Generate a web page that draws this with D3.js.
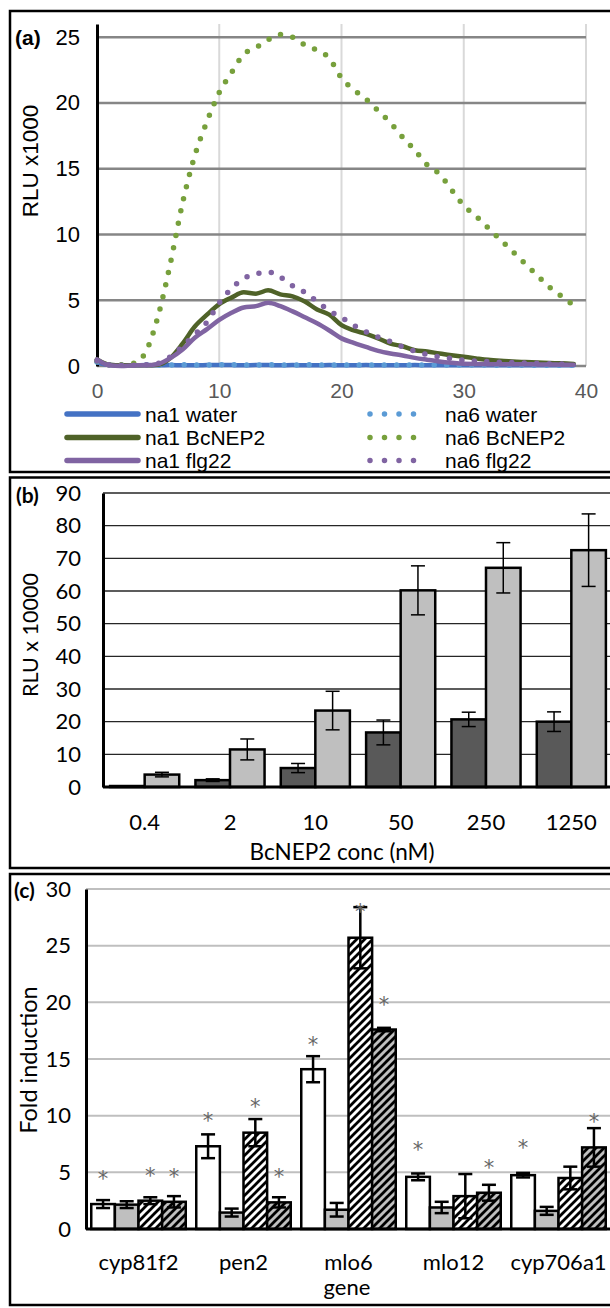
<!DOCTYPE html>
<html>
<head>
<meta charset="utf-8">
<script src="https://cdn.jsdelivr.net/npm/d3@7/dist/d3.min.js"></script>
<style>
    body { margin: 0; background: #fff; }
    svg { display: block; }
</style>
</head>
<body>
<svg id="figure" width="610" height="1308"></svg>
<script>
// ---- panel (a): luminescence time course, RLU x1000 per minute ----
const minutes = [0, 1, 2, 3, 4, 5, 6, 7, 8, 9, 10, 11, 12, 13, 14, 15, 16, 17, 18, 19,
    20, 21, 22, 23, 24, 25, 26, 27, 28, 29, 30, 31, 32, 33, 34, 35, 36, 37, 38, 39];

const na1Water = [0.3, 0.08, 0.06, 0.06, 0.07, 0.06, 0.07, 0.06, 0.06, 0.07, 0.08, 0.07, 0.06, 0.07, 0.07, 0.06,
    0.07, 0.06, 0.06, 0.07, 0.06, 0.06, 0.07, 0.06, 0.06, 0.06, 0.07, 0.06, 0.06, 0.06, 0.06, 0.06,
    0.06, 0.05, 0.06, 0.05, 0.05, 0.06, 0.05, 0.05];
const na6Water = [0.3, 0.1, 0.08, 0.08, 0.09, 0.08, 0.08, 0.09, 0.08, 0.08, 0.1, 0.09, 0.08, 0.08, 0.09, 0.08,
    0.08, 0.09, 0.08, 0.08, 0.08, 0.08, 0.09, 0.08, 0.08, 0.08, 0.08, 0.07, 0.07, 0.07, 0.07, 0.07,
    0.07, 0.06, 0.06, 0.06, 0.06, 0.06, 0.06, 0.06];
const na1BcNEP2 = [0.5, 0.1, 0.05, 0.05, 0.05, 0.1, 0.6, 1.7, 3.0, 3.9, 4.7, 5.2, 5.6, 5.5, 5.75, 5.45,
    5.3, 4.9, 4.3, 3.9, 3.1, 2.7, 2.45, 2.1, 1.7, 1.5, 1.2, 1.1, 0.95, 0.82, 0.7, 0.58,
    0.47, 0.4, 0.35, 0.3, 0.27, 0.23, 0.2, 0.15];
const na6BcNEP2 = [0.4, 0.1, 0.1, 0.2, 1.1, 3.8, 7.8, 12.4, 16.0, 18.6, 20.8, 22.3, 23.7, 24.2, 24.8, 25.2,
    25.0, 24.4, 24.0, 23.4, 21.9, 21.0, 20.3, 19.4, 18.5, 17.4, 16.4, 15.3, 14.6, 13.4, 12.2, 11.4,
    10.5, 9.6, 8.7, 7.8, 6.9, 6.0, 5.3, 4.6];
const na1Flg22 = [0.5, 0.05, 0.0, 0.05, 0.05, 0.15, 0.6, 1.25, 2.15, 2.8, 3.5, 4.05, 4.45, 4.55, 4.8, 4.55,
    4.15, 3.7, 3.25, 2.7, 2.1, 1.75, 1.45, 1.15, 0.95, 0.8, 0.62, 0.48, 0.35, 0.25, 0.17, 0.15,
    0.14, 0.14, 0.13, 0.13, 0.12, 0.12, 0.1, 0.1];
const na6Flg22 = [0.4, 0.1, 0.05, 0.05, 0.1, 0.2, 0.7, 1.5, 2.4, 3.35, 4.8, 5.9, 6.65, 7.0, 7.15, 6.75,
    6.1, 5.6, 4.9, 4.2, 3.7, 3.1, 2.6, 2.2, 1.85, 1.45, 1.13, 0.88, 0.7, 0.56, 0.45, 0.38,
    0.33, 0.29, 0.26, 0.23, 0.2, 0.18, 0.16, 0.15];

const timeTicks = [0, 10, 20, 30, 40];
const rluTicks = [0, 5, 10, 15, 20, 25];

// ---- panel (b): dose response, RLU x 10000 ----
const concLabels = ["0.4", "2", "10", "50", "250", "1250"];
const darkValues = [0.3, 2.1, 5.8, 16.7, 20.7, 20.0];
const darkErrors = [0, 0.4, 1.4, 3.8, 2.2, 3.0];
const lightValues = [3.8, 11.5, 23.4, 60.2, 67.1, 72.5];
const lightErrors = [0.7, 3.2, 5.9, 7.5, 7.7, 11.1];
const doseTicks = [0, 10, 20, 30, 40, 50, 60, 70, 80, 90];

// ---- panel (c): fold induction per gene ----
const genes = ["cyp81f2", "pen2", "mlo6", "mlo12", "cyp706a1"];
const treatments = ["white", "grey", "hatched", "greyHatched"];
const foldValues = [
    [2.2, 2.15, 2.5, 2.4],
    [7.3, 1.45, 8.5, 2.35],
    [14.1, 1.7, 25.7, 17.6],
    [4.6, 1.9, 2.9, 3.2],
    [4.75, 1.6, 4.5, 7.2]
];
const foldErrors = [
    [0.35, 0.3, 0.3, 0.5],
    [1.05, 0.35, 1.2, 0.45],
    [1.15, 0.6, 2.7, 0.15],
    [0.3, 0.5, 1.95, 0.7],
    [0.2, 0.35, 1.0, 1.7]
];
const starHeights = [
    [4.85, null, 5.15, 5.0],
    [10.0, null, 11.2, 5.0],
    [16.7, null, 28.4, 20.2],
    [7.45, null, null, 5.8],
    [7.6, null, null, 9.9]
];
const foldTicks = [0, 5, 10, 15, 20, 25, 30];

(function () {
    const svg = d3.select("#figure");
    const arial = "'Liberation Sans', Arial, sans-serif";
    const calibri = "Lato, 'Open Sans', sans-serif";

    // panel frames (right edges run off the page)
    [[11, 472], [477.5, 868], [874, 1305]].forEach(([top, bottom]) => {
        svg.append("rect")
            .attr("x", 10).attr("y", top)
            .attr("width", 640).attr("height", bottom - top)
            .attr("fill", "none")
            .attr("stroke", "#000")
            .attr("stroke-width", 2.5);
    });

    const defs = svg.append("defs");
    [["hatch-white", "#fff"], ["hatch-grey", "#bfbfbf"]].forEach(([id, bg]) => {
        const p = defs.append("pattern")
            .attr("id", id)
            .attr("patternUnits", "userSpaceOnUse")
            .attr("width", 8).attr("height", 8);
        p.append("rect").attr("width", 8).attr("height", 8).attr("fill", bg);
        p.append("path")
            .attr("d", "M-2,10 L10,-2 M-6,6 L6,-6 M2,14 L14,2")
            .attr("stroke", "#000")
            .attr("stroke-width", 2.8);
    });

    function styleText(sel, font, size, color) {
        sel.attr("font-family", font).attr("font-size", size).attr("fill", color || "#000");
    }

    // ================= (a) =================
    function drawPanelA() {
        const x = d3.scaleLinear().domain([0, 40]).range([97, 586]);
        const y = d3.scaleLinear().domain([0, 26]).range([366, 24]);
        const g = svg.append("g");

        g.selectAll("line.vgrid").data(timeTicks.slice(1)).join("line")
            .attr("x1", d => x(d)).attr("x2", d => x(d))
            .attr("y1", y(26)).attr("y2", y(0))
            .attr("stroke", "#d9d9d9").attr("stroke-width", 2);
        g.selectAll("line.hgrid").data(rluTicks).join("line")
            .attr("x1", x(0)).attr("x2", x(40))
            .attr("y1", d => y(d)).attr("y2", d => y(d))
            .attr("stroke", "#868686").attr("stroke-width", 2.5);

        const yAxis = g.append("g")
            .attr("transform", `translate(${x(0)},0)`)
            .call(d3.axisLeft(y).tickValues(rluTicks).tickSize(0).tickSizeOuter(0).tickPadding(17));
        yAxis.select(".domain").attr("stroke", "#000").attr("stroke-width", 3);
        yAxis.selectAll("text").call(styleText, arial, 22);

        const xAxis = g.append("g")
            .attr("transform", `translate(0,${y(0)})`)
            .call(d3.axisBottom(x).tickValues(timeTicks).tickSize(0).tickPadding(17));
        xAxis.select(".domain").remove();
        xAxis.selectAll("text").call(styleText, arial, 21, "#595959");

        const series = [
            { name: "na1 water", values: na1Water, color: "#4472c4", dotted: false },
            { name: "na6 water", values: na6Water, color: "#5b9bd5", dotted: true },
            { name: "na1 BcNEP2", values: na1BcNEP2, color: "#4f6228", dotted: false },
            { name: "na6 BcNEP2", values: na6BcNEP2, color: "#77a03c", dotted: true },
            { name: "na1 flg22", values: na1Flg22, color: "#8064a2", dotted: false },
            { name: "na6 flg22", values: na6Flg22, color: "#8064a2", dotted: true }
        ];

        const line = d3.line()
            .x((d, i) => x(minutes[i]))
            .y(d => y(d))
            .curve(d3.curveMonotoneX);

        series.forEach(s => {
            g.append("path")
                .attr("d", line(s.values))
                .attr("fill", "none")
                .attr("stroke", s.color)
                .attr("stroke-width", s.dotted ? 5.5 : 4.5)
                .attr("stroke-linecap", "round")
                .attr("stroke-linejoin", "round")
                .attr("stroke-dasharray", s.dotted ? "0 12.5" : null);
        });

        // legend: solid series on the left, dotted on the right
        const rows = [414, 437.5, 460.5];
        series.forEach((s, i) => {
            const col = i % 2;
            const ry = rows[Math.floor(i / 2)];
            const x0 = col ? 370 : 67;
            const x1 = col ? 428 : 138;
            g.append("line")
                .attr("x1", x0).attr("x2", x1)
                .attr("y1", ry).attr("y2", ry)
                .attr("stroke", s.color)
                .attr("stroke-width", 5.5)
                .attr("stroke-linecap", "round")
                .attr("stroke-dasharray", s.dotted ? "0 14.5" : null);
            g.append("text")
                .attr("x", col ? 445 : 145).attr("y", ry)
                .attr("dy", "0.36em")
                .call(styleText, arial, 21)
                .text(s.name);
        });

        g.append("text")
            .attr("transform", "translate(38,161) rotate(-90)")
            .attr("text-anchor", "middle")
            .call(styleText, arial, 22.5)
            .text("RLU x1000");

        g.append("text")
            .attr("x", 15).attr("y", 45)
            .attr("font-weight", "bold")
            .call(styleText, arial, 21)
            .text("(a)");
    }

    // ================= (b) =================
    function drawPanelB() {
        const x = d3.scaleBand().domain(concLabels).range([102, 614])
            .paddingInner(0.19).paddingOuter(0.095);
        const sub = d3.scaleBand().domain(["dark", "light"]).range([0, x.bandwidth()]);
        const y = d3.scaleLinear().domain([0, 90]).range([787, 493]);
        const g = svg.append("g");

        g.selectAll("line.grid").data(doseTicks.slice(1)).join("line")
            .attr("x1", 103).attr("x2", 610)
            .attr("y1", d => y(d)).attr("y2", d => y(d))
            .attr("stroke", "#262626").attr("stroke-width", 1.3);

        const bars = [
            { key: "dark", values: darkValues, errors: darkErrors, fill: "#595959" },
            { key: "light", values: lightValues, errors: lightErrors, fill: "#bfbfbf" }
        ];
        bars.forEach(b => {
            const bx = (d, i) => x(concLabels[i]) + sub(b.key);
            g.append("g").selectAll("rect").data(b.values).join("rect")
                .attr("x", bx)
                .attr("y", d => y(d))
                .attr("width", sub.bandwidth())
                .attr("height", d => y(0) - y(d))
                .attr("fill", b.fill)
                .attr("stroke", "#000")
                .attr("stroke-width", 2.5);
            const eg = g.append("g").attr("stroke", "#000").attr("stroke-width", 1.5);
            b.values.forEach((v, i) => {
                const e = b.errors[i];
                if (!e) return;
                const cx = bx(v, i) + sub.bandwidth() / 2;
                eg.append("line").attr("x1", cx).attr("x2", cx).attr("y1", y(v - e)).attr("y2", y(v + e));
                [v - e, v + e].forEach(c => {
                    eg.append("line").attr("x1", cx - 7).attr("x2", cx + 7).attr("y1", y(c)).attr("y2", y(c));
                });
            });
        });

        const yAxis = g.append("g")
            .attr("transform", "translate(103,0)")
            .call(d3.axisLeft(y).tickValues(doseTicks).tickSize(0).tickSizeOuter(0).tickPadding(22));
        yAxis.select(".domain").attr("stroke", "#000").attr("stroke-width", 3);
        yAxis.selectAll("text").call(styleText, calibri, 22);

        const xAxis = g.append("g")
            .attr("transform", `translate(0,${y(0)})`)
            .call(d3.axisBottom(x).tickSize(0).tickSizeOuter(0).tickPadding(27));
        xAxis.select(".domain").attr("d", "M103,0H610").attr("stroke", "#000").attr("stroke-width", 3);
        xAxis.selectAll("text").call(styleText, calibri, 22);

        g.append("text")
            .attr("x", 342).attr("y", 852).attr("dy", "0.35em")
            .attr("text-anchor", "middle")
            .call(styleText, calibri, 22.5)
            .text("BcNEP2 conc (nM)");

        g.append("text")
            .attr("transform", "translate(38,635) rotate(-90)")
            .attr("text-anchor", "middle")
            .call(styleText, calibri, 21.5)
            .text("RLU x 10000");

        g.append("text")
            .attr("x", 16).attr("y", 503)
            .attr("font-weight", "bold")
            .call(styleText, calibri, 21)
            .text("(b)");
    }

    // ================= (c) =================
    function drawPanelC() {
        const x = d3.scaleBand().domain(genes).range([86, 611])
            .paddingInner(0.1).paddingOuter(0.05);
        const sub = d3.scaleBand().domain(treatments).range([0, x.bandwidth()]);
        const y = d3.scaleLinear().domain([0, 30]).range([1229, 889]);
        const g = svg.append("g");
        const fills = {
            white: "#fff",
            grey: "#bfbfbf",
            hatched: "url(#hatch-white)",
            greyHatched: "url(#hatch-grey)"
        };

        g.selectAll("line.grid").data(foldTicks.slice(1)).join("line")
            .attr("x1", 86).attr("x2", 610)
            .attr("y1", d => y(d)).attr("y2", d => y(d))
            .attr("stroke", "#bfbfbf").attr("stroke-width", 2);

        const cells = [];
        genes.forEach((gene, gi) => {
            treatments.forEach((t, ti) => {
                cells.push({
                    gene, t,
                    value: foldValues[gi][ti],
                    error: foldErrors[gi][ti],
                    star: starHeights[gi][ti]
                });
            });
        });
        const cx = d => x(d.gene) + sub(d.t) + sub.bandwidth() / 2;

        g.append("g").selectAll("rect").data(cells).join("rect")
            .attr("x", d => x(d.gene) + sub(d.t))
            .attr("y", d => y(d.value))
            .attr("width", sub.bandwidth())
            .attr("height", d => y(0) - y(d.value))
            .attr("fill", d => fills[d.t])
            .attr("stroke", "#000")
            .attr("stroke-width", 2.5);

        const eg = g.append("g").attr("stroke", "#000").attr("stroke-width", 2.5);
        cells.forEach(d => {
            const lo = d.value - d.error;
            const hi = d.value + d.error;
            eg.append("line").attr("x1", cx(d)).attr("x2", cx(d)).attr("y1", y(lo)).attr("y2", y(hi));
            [lo, hi].forEach(c => {
                eg.append("line").attr("x1", cx(d) - 7).attr("x2", cx(d) + 7).attr("y1", y(c)).attr("y2", y(c));
            });
        });

        // significance stars (group opacity keeps the glyphs grey, not colour-fringed)
        g.append("g").attr("opacity", 0.99)
            .selectAll("text").data(cells.filter(d => d.star !== null)).join("text")
            .attr("x", cx)
            .attr("y", d => y(d.star) + 12)
            .attr("text-anchor", "middle")
            .call(styleText, "'DejaVu Sans', sans-serif", 21, "#666")
            .text("*");

        const yAxis = g.append("g")
            .attr("transform", "translate(86,0)")
            .call(d3.axisLeft(y).tickValues(foldTicks).tickSize(0).tickSizeOuter(0).tickPadding(15));
        yAxis.select(".domain").attr("stroke", "#000").attr("stroke-width", 3);
        yAxis.selectAll("text").call(styleText, calibri, 22);

        const xAxis = g.append("g")
            .attr("transform", `translate(0,${y(0)})`)
            .call(d3.axisBottom(x).tickSize(0).tickSizeOuter(0).tickPadding(25));
        xAxis.select(".domain").attr("d", "M86,0H610").attr("stroke", "#000").attr("stroke-width", 3);
        xAxis.selectAll("text").call(styleText, calibri, 22);

        g.append("text")
            .attr("x", 347).attr("y", 1287).attr("dy", "0.35em")
            .attr("text-anchor", "middle")
            .call(styleText, calibri, 22)
            .text("gene");

        g.append("text")
            .attr("transform", "translate(37,1060) rotate(-90)")
            .attr("text-anchor", "middle")
            .call(styleText, calibri, 23.5)
            .text("Fold induction");

        g.append("text")
            .attr("x", 14).attr("y", 898)
            .attr("font-weight", "bold")
            .call(styleText, calibri, 21)
            .text("(c)");
    }

    drawPanelA();
    drawPanelB();
    drawPanelC();
})();
</script>
</body>
</html>
